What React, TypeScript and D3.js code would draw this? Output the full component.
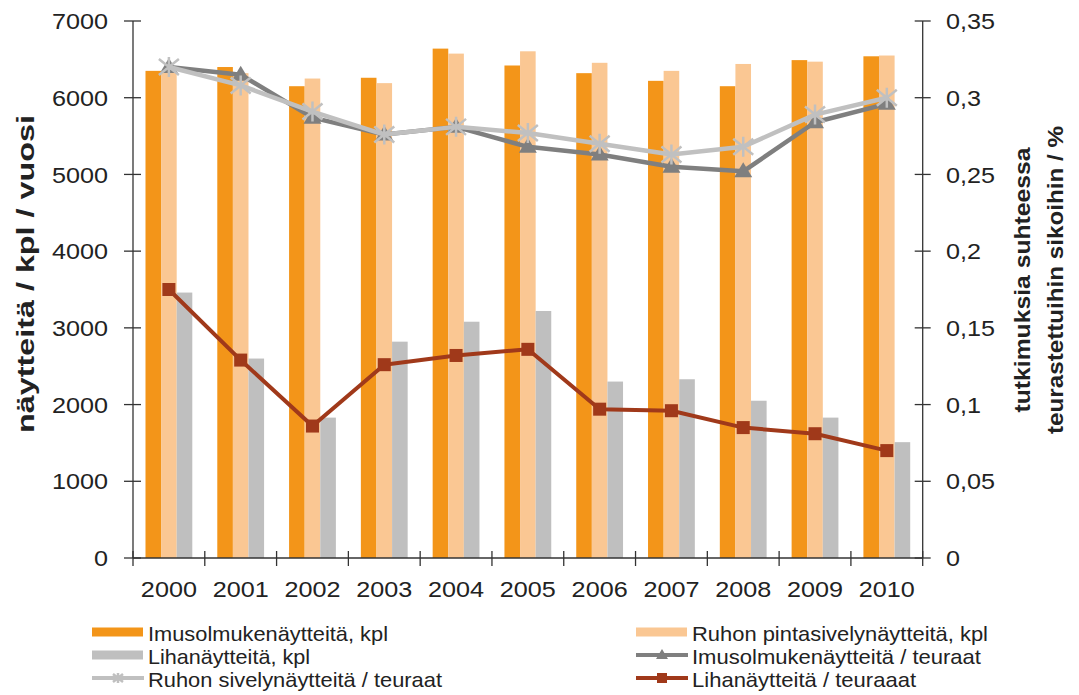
import React from "react";
import * as d3 from "d3";

const years = ["2000","2001","2002","2003","2004","2005","2006","2007","2008","2009","2010"];
const imusolmukeKpl = [6350, 6400, 6150, 6260, 6640, 6420, 6320, 6220, 6150, 6490, 6540];
const ruhonKpl = [6340, 6320, 6250, 6190, 6575, 6605, 6455, 6350, 6440, 6470, 6550];
const lihaKpl = [3460, 2600, 1830, 2820, 3080, 3220, 2300, 2330, 2050, 1830, 1510];
const imusolmukeRatio = [0.320, 0.315, 0.287, 0.276, 0.281, 0.268, 0.263, 0.255, 0.252, 0.284, 0.296];
const ruhonRatio = [0.320, 0.308, 0.291, 0.276, 0.281, 0.277, 0.270, 0.263, 0.268, 0.289, 0.300];
const lihaRatio = [0.175, 0.129, 0.086, 0.126, 0.132, 0.136, 0.097, 0.096, 0.085, 0.081, 0.070];
const leftTicks = [0, 1000, 2000, 3000, 4000, 5000, 6000, 7000];
const rightTicks = [0, 0.05, 0.1, 0.15, 0.2, 0.25, 0.3, 0.35];

const C_ORANGE = "#F39519";
const C_LIGHT = "#FAC793";
const C_GRAYBAR = "#BFBFBF";
const C_DARKLINE = "#7F7F7F";
const C_LIGHTLINE = "#C0C0C0";
const C_BROWN = "#A0391A";

const FONT = "'Liberation Sans', Arial, sans-serif";
const NARROW = "'Liberation Sans Narrow', 'Liberation Sans', Arial, sans-serif";

const L = 133, R = 922.7, T = 21, B = 558;
const SX = 1.12;

function Star({ x, y, color, s = 10 }: { x: number; y: number; color: string; s?: number }) {
  const d = `M${x - s},${y - s * 0.8}L${x + s},${y + s * 0.8}M${x - s},${y + s * 0.8}L${x + s},${y - s * 0.8}M${x},${y - s}L${x},${y + s}`;
  return <path d={d} stroke={color} strokeWidth={2.5} fill="none" />;
}

function Label({ x, y, anchor, children, dy }: { x: number; y: number; anchor: string; children: React.ReactNode; dy?: string }) {
  return (
    <g transform={`translate(${x},${y}) scale(${SX},1)`}>
      <text x={0} y={0} dy={dy} textAnchor={anchor as any} fontFamily={FONT} fontSize={22.5} fill="#222">
        {children}
      </text>
    </g>
  );
}

export default function App() {
  const x = d3.scaleBand<string>().domain(years).range([L, R]).paddingInner(0).paddingOuter(0);
  const yL = d3.scaleLinear().domain([0, 7000]).range([B, T]);
  const yR = d3.scaleLinear().domain([0, 0.35]).range([B, T]);
  const bw = x.bandwidth();
  const barW = 15.6;
  const groupOff = (bw - 3 * barW) / 2;
  const cx = (i: number) => (x(years[i]) as number) + bw / 2;

  const line = d3.line<number>().x((_, i) => cx(i)).y((v) => yR(v));
  const series = [imusolmukeKpl, ruhonKpl, lihaKpl];
  const barColors = [C_ORANGE, C_LIGHT, C_GRAYBAR];
  const fmtR = (v: number) => (v === 0 ? "0" : String(+v.toFixed(2)).replace(".", ","));

  const legendLeft = [
    { label: "Imusolmukenäytteitä, kpl", w: 240, type: "rect", color: C_ORANGE },
    { label: "Lihanäytteitä, kpl", w: 162, type: "rect", color: C_GRAYBAR },
    { label: "Ruhon sivelynäytteitä / teuraat", w: 294, type: "star", color: C_LIGHTLINE },
  ];
  const legendRight = [
    { label: "Ruhon pintasivelynäytteitä, kpl", w: 296, type: "rect", color: C_LIGHT },
    { label: "Imusolmukenäytteitä / teuraat", w: 289, type: "tri", color: C_DARKLINE },
    { label: "Lihanäytteitä / teuraaat", w: 224, type: "sq", color: C_BROWN },
  ];
  const rowBase = [641, 664, 687];

  const legendItem = (it: any, i: number, sx: number, tx: number) => {
    const cy = rowBase[i] - 9;
    let sw: React.ReactNode = null;
    if (it.type === "rect") sw = <rect x={sx} y={cy - 4.5} width={51} height={9} fill={it.color} />;
    else {
      const mid = sx + 26;
      sw = (
        <g>
          <line x1={sx} x2={sx + 52} y1={cy} y2={cy} stroke={it.color} strokeWidth={4} />
          {it.type === "star" && <Star x={mid} y={cy} color={it.color} s={5} />}
          {it.type === "tri" && <path d={`M${mid},${cy - 6}L${mid + 6},${cy + 4}L${mid - 6},${cy + 4}Z`} fill={it.color} />}
          {it.type === "sq" && <rect x={mid - 5} y={cy - 5} width={10} height={10} fill={it.color} />}
        </g>
      );
    }
    return (
      <g key={it.label}>
        {sw}
        <text x={tx} y={rowBase[i]} fontFamily={NARROW} fontSize={21} fill="#222" textLength={it.w} lengthAdjust="spacingAndGlyphs">
          {it.label}
        </text>
      </g>
    );
  };

  return (
    <svg width={1079} height={695} style={{ position: "absolute", left: 0, top: 0, background: "#fff" }}>
      <rect width={1079} height={695} fill="#fff" />
      {/* bars */}
      {series.map((s, si) =>
        s.map((v, i) => (
          <rect
            key={`b${si}-${i}`}
            x={(x(years[i]) as number) + groupOff + si * barW}
            y={yL(v)}
            width={barW}
            height={B - yL(v)}
            fill={barColors[si]}
          />
        ))
      )}
      {/* axes */}
      <line x1={L} x2={L} y1={T} y2={B} stroke="#333" strokeWidth={1.3} />
      <line x1={R} x2={R} y1={T} y2={B} stroke="#333" strokeWidth={1.3} />
      <line x1={L} x2={R} y1={B} y2={B} stroke="#333" strokeWidth={1.3} />
      {leftTicks.map((t) => (
        <g key={`lt${t}`}>
          <line x1={L - 9} x2={L + 8} y1={yL(t)} y2={yL(t)} stroke="#333" strokeWidth={1.3} />
          <Label x={108} y={yL(t)} dy="0.36em" anchor="end">{t}</Label>
        </g>
      ))}
      {rightTicks.map((t) => (
        <g key={`rt${t}`}>
          <line x1={R - 8} x2={R + 8} y1={yR(t)} y2={yR(t)} stroke="#333" strokeWidth={1.3} />
          <Label x={946} y={yR(t)} dy="0.36em" anchor="start">{fmtR(t)}</Label>
        </g>
      ))}
      {years.map((yv, i) => (
        <g key={`xt${yv}`}>
          <line x1={x(yv) as number} x2={x(yv) as number} y1={B - 7} y2={B + 8} stroke="#333" strokeWidth={1.3} />
          <Label x={cx(i)} y={597} anchor="middle">{yv}</Label>
        </g>
      ))}
      <line x1={R} x2={R} y1={B - 7} y2={B + 8} stroke="#333" strokeWidth={1.3} />
      {/* lines */}
      <path d={line(imusolmukeRatio) || ""} fill="none" stroke={C_DARKLINE} strokeWidth={4.5} strokeLinejoin="round" />
      {imusolmukeRatio.map((v, i) => (
        <path key={`tr${i}`} d={`M${cx(i)},${yR(v) - 9}L${cx(i) + 9},${yR(v) + 6}L${cx(i) - 9},${yR(v) + 6}Z`} fill={C_DARKLINE} />
      ))}
      <path d={line(ruhonRatio) || ""} fill="none" stroke={C_LIGHTLINE} strokeWidth={4.5} strokeLinejoin="round" />
      {ruhonRatio.map((v, i) => (
        <Star key={`st${i}`} x={cx(i)} y={yR(v)} color={C_LIGHTLINE} s={10} />
      ))}
      <path d={line(lihaRatio) || ""} fill="none" stroke={C_BROWN} strokeWidth={4} strokeLinejoin="round" />
      {lihaRatio.map((v, i) => (
        <rect key={`sq${i}`} x={cx(i) - 6.5} y={yR(v) - 6.5} width={13} height={13} fill={C_BROWN} />
      ))}
      {/* axis titles */}
      <text transform="translate(34,274) rotate(-90)" textAnchor="middle" fontFamily={FONT} fontSize={23} fontWeight="bold" fill="#222" textLength={318} lengthAdjust="spacingAndGlyphs">
        näytteitä / kpl / vuosi
      </text>
      <text transform="translate(1030,280) rotate(-90)" textAnchor="middle" fontFamily={FONT} fontSize={22} fontWeight="bold" fill="#222" textLength={265} lengthAdjust="spacingAndGlyphs">
        tutkimuksia suhteessa
      </text>
      <text transform="translate(1063,280) rotate(-90)" textAnchor="middle" fontFamily={FONT} fontSize={22} fontWeight="bold" fill="#222" textLength={308} lengthAdjust="spacingAndGlyphs">
        teurastettuihin sikoihin / %
      </text>
      {/* legend */}
      {legendLeft.map((it, i) => legendItem(it, i, 92, 148))}
      {legendRight.map((it, i) => legendItem(it, i, 636, 692))}
    </svg>
  );
}
